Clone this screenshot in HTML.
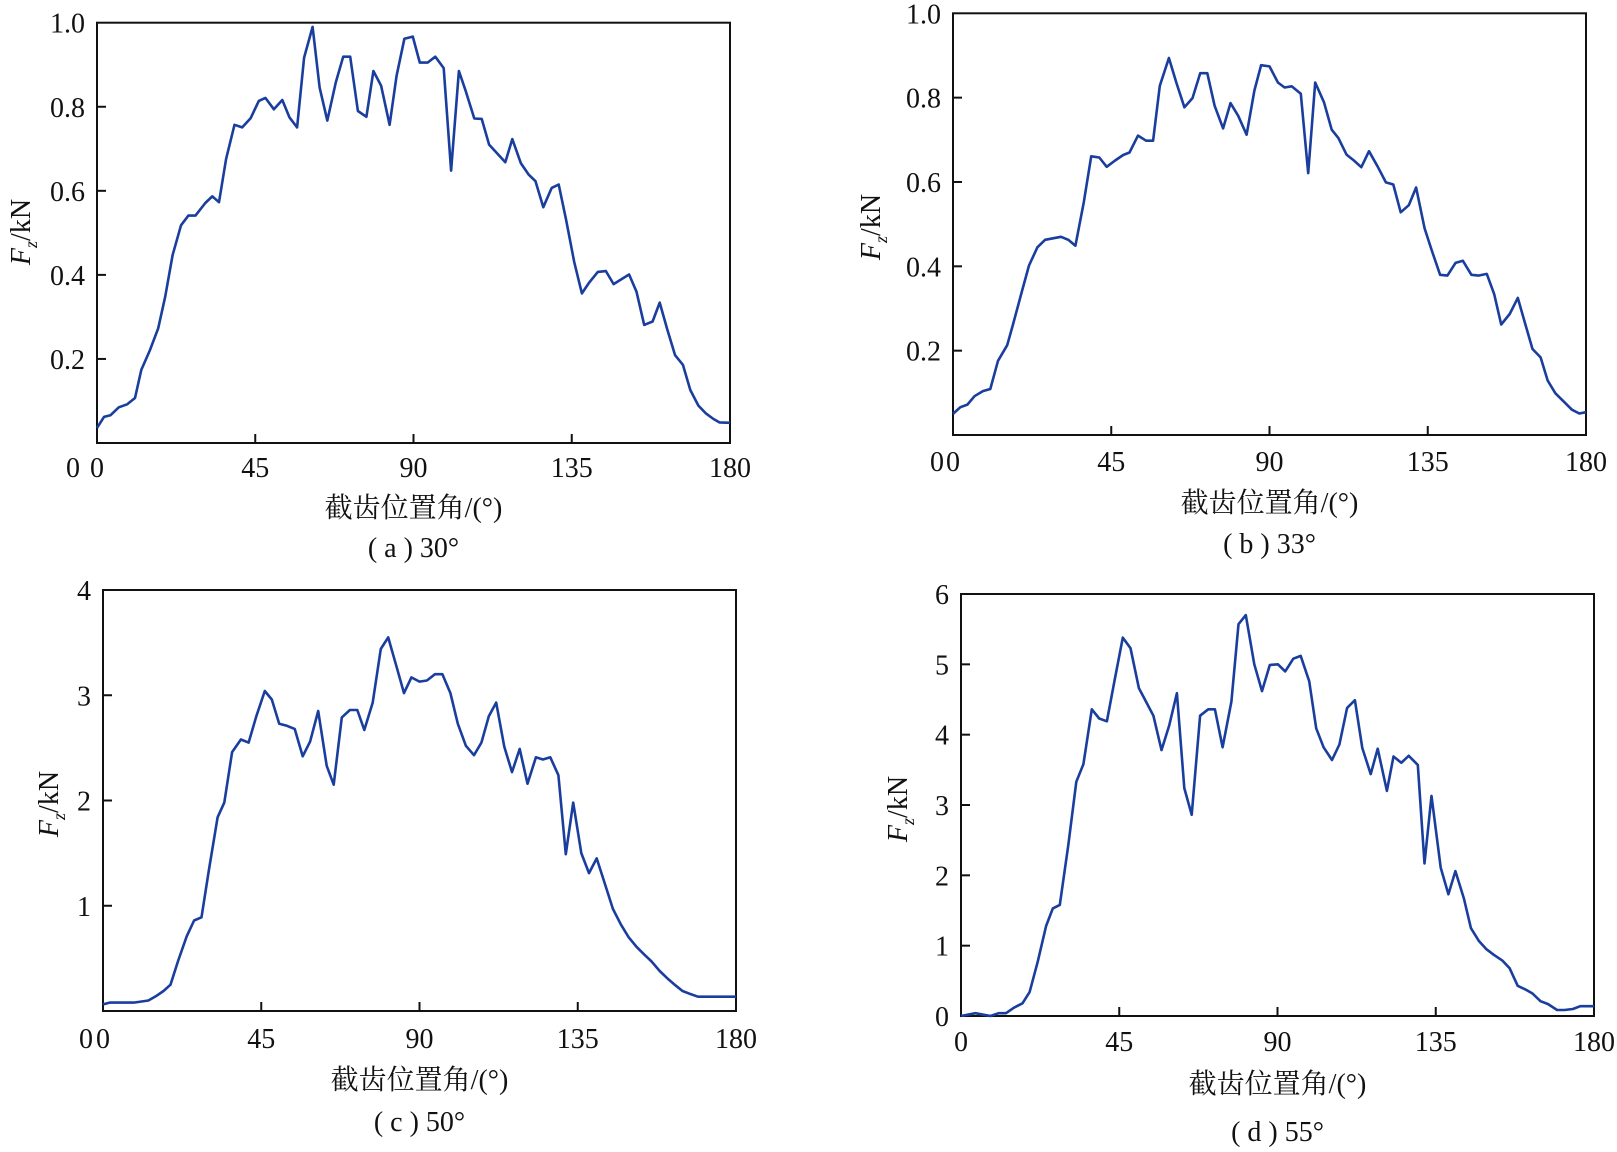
<!DOCTYPE html>
<html><head><meta charset="utf-8"><style>
body{margin:0;background:#fff;}
svg text{font-family:"Liberation Serif","Noto Serif CJK SC",serif;fill:#111;}
</style></head><body>
<svg id="fig" width="1617" height="1147" viewBox="0 0 1617 1147" xmlns="http://www.w3.org/2000/svg"></svg>
<script>
const angleA=[0,2,3.8,6.2,8.6,10.8,12.6,15,17.4,19.4,21.5,23.9,26,28,30.8,32.8,34.7,36.7,39.1,41.3,43.7,46,47.9,50.3,52.7,54.7,56.9,58.9,61.3,63.3,65.5,67.9,70,72,74.2,76.6,78.6,80.8,83.2,85.2,87.4,89.8,91.8,94,96.2,98.6,100.7,102.9,104.9,107.3,109.4,111.5,113.9,116.1,118.1,120.5,122.7,124.7,126.9,129.3,131.3,133.4,135.7,137.9,140,142.4,144.7,146.9,149,151.3,153.4,155.6,158,160,162.2,164.4,166.6,168.7,171,173.2,175.3,177,180];
const valA=[0.036,0.062,0.066,0.085,0.092,0.107,0.174,0.22,0.273,0.348,0.447,0.518,0.541,0.541,0.571,0.587,0.573,0.676,0.757,0.751,0.773,0.814,0.821,0.794,0.816,0.775,0.751,0.917,0.99,0.846,0.767,0.858,0.919,0.919,0.79,0.776,0.885,0.85,0.757,0.874,0.962,0.967,0.905,0.905,0.919,0.892,0.648,0.885,0.836,0.772,0.771,0.71,0.688,0.668,0.723,0.666,0.639,0.623,0.561,0.607,0.615,0.531,0.431,0.356,0.382,0.407,0.409,0.378,0.389,0.401,0.36,0.281,0.289,0.334,0.269,0.209,0.186,0.126,0.089,0.07,0.057,0.049,0.048];
const angleB=[0,2.1,4.1,6.1,8.5,10.6,12.8,15.4,17.1,19.5,21.6,24,26.2,30.7,32.8,34.8,37.2,39.3,41.6,43.7,46.1,48.4,50.2,52.6,54.9,56.9,58.8,61.4,63.5,65.8,68.1,70.3,72.3,74.4,76.8,78.9,81.1,83.5,85.7,87.6,90,92.4,94.3,96.3,98.9,101,103,105.5,107.7,109.6,111.9,114,116.1,118.3,120.8,123.1,125.2,127.3,129.6,131.7,134.1,136.2,138.5,140.6,142.9,145,147.4,149.4,151.8,153.9,155.9,158.3,160.6,162.8,164.8,167.1,169.1,171.3,173.6,176,178.1,180];
const valB=[0.05,0.066,0.072,0.092,0.104,0.109,0.176,0.213,0.263,0.338,0.402,0.445,0.463,0.47,0.463,0.449,0.552,0.661,0.658,0.636,0.651,0.664,0.67,0.71,0.698,0.698,0.828,0.894,0.836,0.777,0.799,0.858,0.858,0.781,0.727,0.787,0.757,0.712,0.817,0.877,0.874,0.836,0.824,0.827,0.809,0.621,0.836,0.789,0.724,0.704,0.665,0.651,0.635,0.673,0.636,0.599,0.594,0.528,0.545,0.587,0.49,0.436,0.38,0.378,0.408,0.413,0.38,0.378,0.382,0.334,0.262,0.287,0.325,0.261,0.204,0.184,0.129,0.099,0.08,0.06,0.051,0.054];
const angleC=[0,1.9,8.8,12.9,15,17.2,19.2,21.3,23.8,25.9,28,30.1,32.6,34.5,36.7,39.2,41.4,43.6,46,48,50.1,52.3,54.5,56.8,58.9,61.2,63.6,65.6,67.9,70.2,72.3,74.3,76.7,79,81.1,83.4,85.6,87.7,90,92.1,94.4,96.5,98.8,100.9,103.2,105.5,107.6,109.7,111.8,114.1,116.3,118.5,120.7,123.1,125.1,127.2,129.5,131.6,133.7,136,138.2,140.4,142.6,145,147.3,149.5,151.7,153.8,156,158.3,160.8,162.9,164.8,166.7,169.2,180];
const valC=[0.063,0.08,0.08,0.1,0.14,0.19,0.25,0.47,0.71,0.86,0.89,1.34,1.84,1.98,2.46,2.58,2.55,2.8,3.04,2.96,2.73,2.71,2.68,2.42,2.56,2.85,2.33,2.15,2.79,2.86,2.86,2.67,2.93,3.44,3.55,3.28,3.02,3.17,3.13,3.14,3.2,3.2,3.02,2.73,2.52,2.43,2.55,2.8,2.93,2.51,2.27,2.49,2.16,2.41,2.39,2.41,2.24,1.49,1.98,1.5,1.31,1.45,1.22,0.97,0.82,0.7,0.61,0.54,0.47,0.38,0.3,0.24,0.19,0.165,0.136,0.136];
const angleD=[0,4.1,8.4,10.7,12.8,15.1,17.5,19.5,21.8,24.2,26.1,28.1,30.5,32.8,34.8,37.2,39.3,41.5,43.7,46,48.2,50.6,52.6,54.7,57,59.2,61.4,63.5,65.6,68,70.3,72.2,74.4,76.9,78.9,81,83.4,85.6,87.8,90.1,92.2,94.5,96.6,99,101,103.1,105.5,107.6,109.8,112,114.1,116.5,118.5,121.1,123,125.2,127.3,129.9,131.8,133.8,136.4,138.6,140.6,143,145,147.2,149.4,151.5,153.9,156,158.3,160.4,162.5,164.8,166.9,169.5,171.6,174,176.1,180];
const valD=[0,0.04,0,0.04,0.04,0.12,0.18,0.34,0.77,1.28,1.53,1.58,2.43,3.33,3.58,4.36,4.23,4.19,4.78,5.38,5.23,4.66,4.47,4.27,3.78,4.13,4.59,3.24,2.86,4.27,4.36,4.36,3.82,4.47,5.57,5.7,5.0,4.62,4.99,5.0,4.9,5.08,5.12,4.76,4.09,3.82,3.64,3.86,4.38,4.49,3.81,3.44,3.8,3.2,3.69,3.6,3.7,3.57,2.17,3.13,2.11,1.73,2.06,1.67,1.25,1.07,0.95,0.87,0.79,0.68,0.43,0.38,0.32,0.21,0.17,0.085,0.085,0.1,0.14,0.14];
const xTicks=[0,45,90,135,180];
const yTicksAB=[0.2,0.4,0.6,0.8,1.0];
const yTicksC=[1,2,3,4];
const yTicksD=[0,1,2,3,4,5,6];

const NS='http://www.w3.org/2000/svg';
const svg=document.getElementById('fig');
function mk(tag,attrs,parent){const e=document.createElementNS(NS,tag);for(const k in attrs)e.setAttribute(k,attrs[k]);(parent||svg).appendChild(e);return e;}

function panel(p){
  const g=mk('g',{});
  
  
  const X=a=>p.x0+(a-0)/180*(p.x1-p.x0);
  const Y=v=>p.yb-(v-p.ymin)/(p.ymax-p.ymin)*(p.yb-p.yt);
  const box=mk('rect',{x:p.x0,y:p.yt,width:p.x1-p.x0,height:p.yb-p.yt,fill:'none',stroke:'#111','stroke-width':2},g);
  
  
  xTicks.forEach(t=>{
    const tx=X(t);
    if(t>0&&t<180){const l=mk('line',{x1:tx,x2:tx,y1:p.yb,y2:p.yb-9,stroke:'#111','stroke-width':2},g);
      
      }
    const tl=mk('text',{x:tx,y:p.xly,'font-size':28,'text-anchor':'middle'},g);
    tl.textContent=t;
    
    
  });
  p.yt_.forEach(t=>{
    const ty=Y(t);
    if(ty<p.yb-1&&ty>p.yt+1){const l=mk('line',{x1:p.x0,x2:p.x0+9,y1:ty,y2:ty,stroke:'#111','stroke-width':2},g);
      
      }
    const tl=mk('text',{x:p.x0-12,y:ty+10,'font-size':28,'text-anchor':'end'},g);
    tl.textContent=p.fmt(t);
    
    
  });
  if(p.zero){const z=mk('text',{x:p.zero[0],y:p.zero[1],'font-size':28,'text-anchor':'middle'},g);
    z.textContent='0';
    
    }
  const pts=p.ang.map((a,i)=>X(a).toFixed(1)+','+Y(p.val[i]).toFixed(1)).join(' ');
  const line=mk('polyline',{points:pts,fill:'none',stroke:'#1a3e9e','stroke-width':2.6,'stroke-linejoin':'round'},g);
  
  
  const yl=mk('text',{transform:`translate(${p.ylx},${p.yly}) rotate(-90)`,'font-size':28,'text-anchor':'middle'},g);
  yl.innerHTML='<tspan font-style="italic">F</tspan><tspan font-style="italic" font-size="18" dy="7">z</tspan><tspan dy="-7">/kN</tspan>';
  
  
  const cx=(p.x0+p.x1)/2;
  const xt=mk('text',{x:cx,y:p.xty,'font-size':28,'text-anchor':'middle'},g);
  xt.textContent='截齿位置角/(°)';
  
  
  const cap=mk('text',{x:cx,y:p.capy,'font-size':28,'text-anchor':'middle'},g);
  cap.textContent=p.cap;
  
  
}
const f1=t=>t.toFixed(1), f0=t=>String(t);
panel({id:'a',x0:97,x1:730,yt:22.7,yb:443,ymin:0,ymax:1,ang:angleA,val:valA,yt_:yTicksAB,fmt:f1,xly:477,zero:[73,477],ylx:30,yly:232,xty:517,capy:557,cap:'( a ) 30°'});
panel({id:'b',x0:953,x1:1586,yt:13.3,yb:435,ymin:0,ymax:1,ang:angleB,val:valB,yt_:yTicksAB,fmt:f1,xly:471,zero:[937,471],ylx:880,yly:227,xty:512,capy:553,cap:'( b ) 33°'});
panel({id:'c',x0:103,x1:736,yt:590,yb:1011,ymin:0,ymax:4,ang:angleC,val:valC,yt_:yTicksC,fmt:f0,xly:1048,zero:[86,1048],ylx:58,yly:804,xty:1089,capy:1131,cap:'( c ) 50°'});
panel({id:'d',x0:961,x1:1594,yt:594,yb:1016,ymin:0,ymax:6,ang:angleD,val:valD,yt_:yTicksD,fmt:f0,xly:1051,zero:null,ylx:907,yly:809,xty:1093,capy:1141,cap:'( d ) 55°'});
</script>
</body></html>
